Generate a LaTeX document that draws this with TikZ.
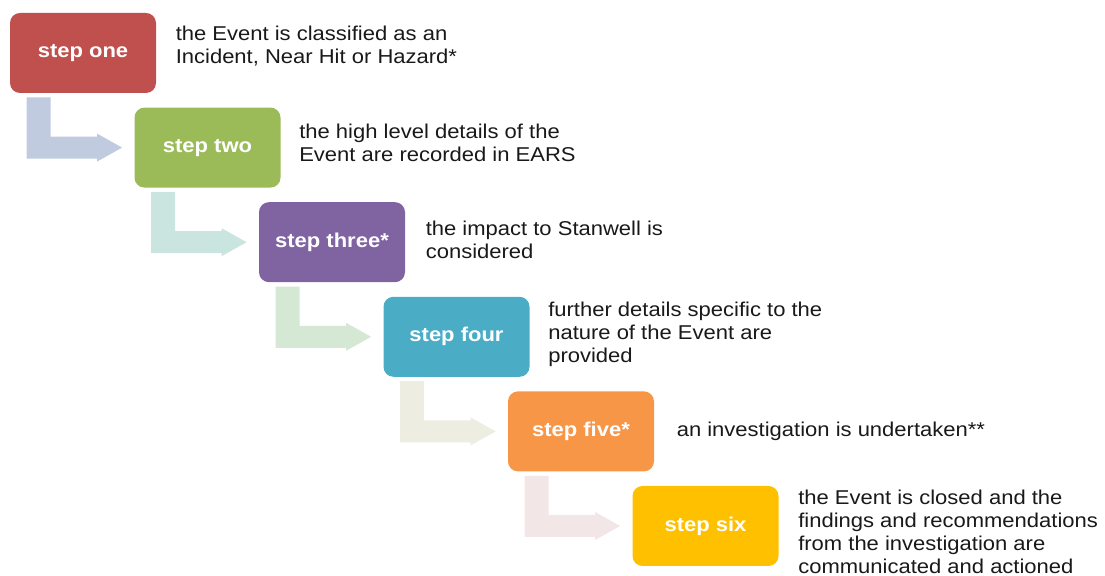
\documentclass[tikz,border=0pt]{standalone}
\usepackage{fontspec}
\setmainfont[FakeStretch=1.1]{Liberation Sans}
\usetikzlibrary{positioning,calc}

\definecolor{stepred}{HTML}{C0504D}
\definecolor{stepgreen}{HTML}{9BBB59}
\definecolor{steppurple}{HTML}{8064A2}
\definecolor{stepteal}{HTML}{4BACC6}
\definecolor{steporange}{HTML}{F79646}
\definecolor{stepgold}{HTML}{FFC000}
\definecolor{arrowblue}{HTML}{C0CBE0}
\definecolor{arrowteal}{HTML}{CAE5DF}
\definecolor{arrowgreen}{HTML}{D5E8D4}
\definecolor{arrowbeige}{HTML}{EEEDE1}
\definecolor{arrowpink}{HTML}{F2E6E6}

\begin{document}
\begin{tikzpicture}[x=0.5pt, y=0.5pt,
    stepbox/.style={rectangle, rounded corners=5pt, minimum width=73pt, minimum height=40pt,
      inner sep=0pt, text=white, font=\fontsize{10}{11.5}\selectfont\bfseries},
    steptext/.style={align=left, inner sep=0pt, text=black!90, font=\fontsize{10}{11.5}\selectfont}]
  \useasboundingbox (0,0) rectangle (1105,-576);

  % the six steps
  \foreach \c/\t [count=\k] in {stepred/step one, stepgreen/step two, steppurple/step three*,
      stepteal/step four, steporange/step five*, stepgold/step six} {
    \node[stepbox, fill=\c] (s\k) at ({83+124.5*(\k-1)}, {-53-94.6*(\k-1)}) {\t};
  }

  % bent arrows between the steps
  \foreach \i/\j/\c in {1/2/arrowblue, 2/3/arrowteal, 3/4/arrowgreen, 4/5/arrowbeige, 5/6/arrowpink} {
    \coordinate (a\i) at ($(s\i.south west)+(17,-4)$);
    \coordinate (p\i) at ($(s\j.west)+(-12,0)$);
    \fill[\c] (a\i) -- ++(24,0) |- ($(p\i)+(-25,11)$) -- ++(0,3) -- (p\i)
      -- ++(-25,-14) -- ++(0,3) -| (a\i) -- cycle;
  }

  % descriptions
  \node[steptext, right=9.5pt of s1, yshift=3.5pt] (d1) {the Event is classified as an\\Incident, Near Hit or Hazard*};
  \node[steptext, right=9pt of s2, yshift=2.5pt] (d2) {the high level details of the\\Event are recorded in EARS};
  \node[steptext, right=10pt of s3, yshift=1pt] (d3) {the impact to Stanwell is\\considered};
  \node[steptext, right=9pt of s4, yshift=1pt] (d4) {further details specific to the\\nature of the Event are\\provided};
  \node[steptext, right=11pt of s5] (d5) {an investigation is undertaken**};
  \node[steptext, right=9.5pt of s6, yshift=-3pt] (d6) {the Event is closed and the\\findings and recommendations\\from the investigation are\\communicated and actioned};
\end{tikzpicture}
\end{document}
